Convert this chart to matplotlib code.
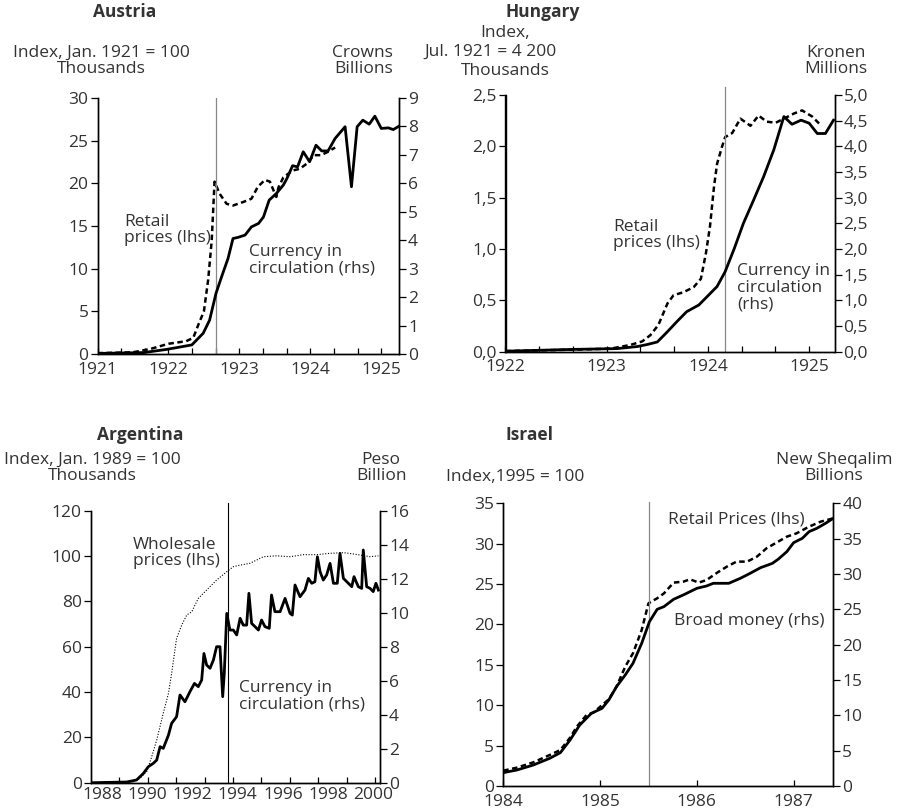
import numpy as np
import matplotlib.pyplot as plt
from matplotlib.ticker import FuncFormatter

plt.rcParams['font.family'] = ['Open Sans', 'DejaVu Sans']
txt_col = '#333333'
fs = 12.5

# Austria (retail prices lhs, thousands; currency rhs, billions of crowns)
aut_price_x = [1921.0, 1921.5, 1921.75, 1922.0, 1922.25, 1922.35, 1922.42, 1922.5, 1922.56,
               1922.61, 1922.65, 1922.72, 1922.82, 1922.91, 1923.05, 1923.17, 1923.26, 1923.36,
               1923.43, 1923.52, 1923.55, 1923.62, 1923.75, 1923.85, 1923.95, 1924.05, 1924.15,
               1924.25, 1924.35]
aut_price_y = [0.1, 0.2, 0.6, 1.2, 1.5, 1.9, 3.4, 5.0, 8.7, 13.3, 20.2, 18.8, 17.6, 17.4, 17.8,
               18.2, 19.6, 20.4, 20.2, 18.4, 19.5, 20.7, 21.5, 21.7, 22.3, 23.3, 23.3, 23.7, 24.2]
aut_cur_x = [1921.0, 1921.65, 1921.97, 1922.33, 1922.49, 1922.58, 1922.67, 1922.75, 1922.84,
             1922.91, 1922.98, 1923.08, 1923.17, 1923.27, 1923.34, 1923.42, 1923.52, 1923.62,
             1923.67, 1923.75, 1923.82, 1923.9, 1923.99, 1924.08, 1924.16, 1924.25, 1924.35,
             1924.49, 1924.58, 1924.66, 1924.74, 1924.83, 1924.91, 1925.0, 1925.1, 1925.17, 1925.25]
aut_cur_y = [0.02, 0.05, 0.16, 0.32, 0.73, 1.19, 2.13, 2.72, 3.36, 4.06, 4.1, 4.18, 4.47, 4.59,
             4.82, 5.41, 5.64, 5.94, 6.17, 6.62, 6.58, 7.11, 6.76, 7.34, 7.14, 7.14, 7.58, 7.99,
             5.88, 7.99, 8.22, 8.08, 8.36, 7.93, 7.95, 7.89, 8.01]

# Hungary (retail prices lhs, thousands; currency rhs, millions of kronen)
hun_price_x = [1922.0, 1922.67, 1923.04, 1923.23, 1923.35, 1923.43, 1923.51, 1923.6, 1923.66,
               1923.76, 1923.86, 1923.93, 1923.98, 1924.02, 1924.06, 1924.09, 1924.14, 1924.17,
               1924.24, 1924.32, 1924.42, 1924.5, 1924.58, 1924.67, 1924.75, 1924.85, 1924.93,
               1925.03, 1925.11]
hun_price_y = [0.006, 0.02, 0.03, 0.065, 0.1, 0.16, 0.26, 0.47, 0.55, 0.58, 0.63, 0.71, 0.96,
               1.22, 1.61, 1.83, 2.0, 2.09, 2.13, 2.27, 2.2, 2.3, 2.24, 2.23, 2.27, 2.32, 2.35,
               2.29, 2.21]
hun_cur_x = [1922.0, 1922.67, 1923.1, 1923.3, 1923.4, 1923.5, 1923.6, 1923.69, 1923.79, 1923.91,
             1923.99, 1924.09, 1924.17, 1924.26, 1924.35, 1924.45, 1924.55, 1924.65, 1924.75,
             1924.83, 1924.92, 1925.0, 1925.08, 1925.16, 1925.24]
hun_cur_y = [0.01, 0.045, 0.06, 0.1, 0.14, 0.19, 0.39, 0.58, 0.78, 0.91, 1.07, 1.27, 1.56, 2.01,
             2.5, 2.95, 3.41, 3.93, 4.58, 4.43, 4.51, 4.45, 4.25, 4.25, 4.51]

# Argentina (wholesale prices lhs, thousands; currency rhs, billion pesos)
arg_price_x = [1987.54, 1988.8, 1989.39, 1989.68, 1989.98, 1990.2, 1990.42, 1990.71, 1990.94,
               1991.08, 1991.3, 1991.53, 1991.75, 1991.97, 1992.26, 1992.63, 1993.07, 1993.52,
               1993.81, 1994.11, 1994.55, 1995.14, 1995.73, 1996.32, 1996.91, 1997.5, 1998.09,
               1998.68, 1999.27, 1999.86, 2000.23]
arg_price_y = [0, 0, 0.4, 1.9, 4.9, 11.5, 18.8, 30.6, 39.4, 48.2, 63.7, 69.6, 74.0, 75.4, 81.3,
               85.0, 89.4, 93.1, 95.3, 96.0, 96.8, 99.7, 100.1, 99.7, 100.6, 100.6, 101.2, 101.5,
               100.7, 99.7, 100.1]
arg_cur_x = [1987.54, 1989.09, 1989.53, 1989.83, 1990.05, 1990.27, 1990.42, 1990.57, 1990.71,
             1990.94, 1991.08, 1991.3, 1991.45, 1991.67, 1991.89, 1992.09, 1992.26, 1992.41,
             1992.51, 1992.63, 1992.78, 1992.93, 1993.07, 1993.22, 1993.34, 1993.41, 1993.52,
             1993.66, 1993.81, 1993.96, 1994.11, 1994.25, 1994.4, 1994.5, 1994.62, 1994.77,
             1994.92, 1995.06, 1995.21, 1995.4, 1995.5, 1995.65, 1995.88, 1996.1, 1996.32,
             1996.42, 1996.54, 1996.76, 1996.98, 1997.13, 1997.28, 1997.42, 1997.53, 1997.65,
             1997.79, 1997.94, 1998.09, 1998.24, 1998.41, 1998.53, 1998.68, 1998.9, 1999.05,
             1999.15, 1999.34, 1999.49, 1999.56, 1999.71, 1999.86, 2000.0, 2000.12, 2000.23]
arg_cur_y = [0, 0.04, 0.16, 0.55, 0.94, 1.14, 1.33, 2.12, 2.02, 2.8, 3.49, 3.88, 5.16, 4.76,
             5.35, 5.84, 5.65, 6.04, 7.6, 6.92, 6.73, 7.22, 8.0, 8.0, 5.06, 6.43, 9.96, 8.98,
             8.98, 8.69, 9.67, 9.27, 9.27, 11.14, 9.37, 9.18, 8.98, 9.57, 9.18, 9.08, 11.04,
             10.06, 10.06, 10.84, 9.96, 9.86, 11.63, 10.94, 11.33, 12.02, 11.73, 11.82, 13.29,
             12.41, 11.92, 12.22, 12.9, 11.73, 11.73, 13.49, 12.02, 11.73, 11.53, 12.12, 11.53,
             11.43, 13.69, 11.53, 11.43, 11.24, 11.73, 11.33]

# Israel (retail prices lhs, index; broad money rhs, billions of new sheqalim)
isr_price_x = [1984.0, 1984.14, 1984.31, 1984.48, 1984.59, 1984.69, 1984.76, 1984.86, 1984.93,
               1985.09, 1985.17, 1985.26, 1985.34, 1985.43, 1985.5, 1985.59, 1985.66, 1985.76,
               1985.86, 1985.93, 1986.02, 1986.1, 1986.21, 1986.31, 1986.41, 1986.52, 1986.62,
               1986.72, 1986.84, 1986.93, 1987.03, 1987.16, 1987.28, 1987.41]
isr_price_y = [1.9, 2.27, 2.93, 3.84, 4.46, 5.98, 7.35, 8.79, 9.08, 10.73, 12.3, 14.78, 16.43,
               19.31, 22.62, 23.24, 23.85, 25.18, 25.3, 25.59, 25.18, 25.5, 26.41, 27.16, 27.78,
               27.78, 28.39, 29.43, 30.25, 30.87, 31.28, 32.11, 32.73, 33.14]
isr_money_x = [1984.0, 1984.14, 1984.31, 1984.48, 1984.59, 1984.69, 1984.79, 1984.91, 1985.02,
               1985.09, 1985.17, 1985.26, 1985.34, 1985.43, 1985.51, 1985.59, 1985.66, 1985.76,
               1985.86, 1986.0, 1986.1, 1986.17, 1986.33, 1986.45, 1986.55, 1986.66, 1986.78,
               1986.84, 1986.93, 1987.0, 1987.09, 1987.16, 1987.24, 1987.33, 1987.41]
isr_money_y = [1.89, 2.26, 2.97, 3.92, 4.72, 6.51, 8.63, 10.28, 10.99, 12.17, 14.06, 15.71,
               17.36, 20.19, 23.25, 25.0, 25.38, 26.42, 27.03, 27.97, 28.3, 28.68, 28.68, 29.39,
               30.09, 30.9, 31.5, 32.08, 33.16, 34.43, 35.05, 35.99, 36.46, 37.17, 37.88]

W, H = 897, 808
fig = plt.figure(figsize=(W / 100, H / 100), dpi=100)


def rect(x0, y0, x1, y1):
    return [x0 / W, 1 - y1 / H, (x1 - x0) / W, (y1 - y0) / H]


def ftext(x, y, s, **kw):
    kw.setdefault('fontsize', fs)
    kw.setdefault('color', txt_col)
    fig.text(x / W, 1 - y / H, s, va='center', linespacing=1.05, **kw)


def panel(pos, xlim, ylim, ylim2, xpad=5.5):
    ax = fig.add_axes(pos)
    ax2 = ax.twinx()
    for a in (ax, ax2):
        a.spines['top'].set_visible(False)
        for s in ('left', 'right', 'bottom'):
            a.spines[s].set_linewidth(1.0)
        a.set_xlim(*xlim)
        a.tick_params(axis='y', length=5, width=0.9, pad=1.5, labelsize=fs, labelcolor=txt_col)
        a.tick_params(axis='x', which='both', direction='in', length=4, width=0.9, pad=xpad,
                      labelsize=fs, labelcolor=txt_col)
    ax.set_ylim(*ylim)
    ax2.set_ylim(*ylim2)
    return ax, ax2


dash = dict(color='black', lw=1.8, ls=(0, (2.2, 1.4)))
solid = dict(color='black', lw=2.0)

# ---- Austria
ax, ax2 = panel(rect(97.5, 98, 399, 354), (1921, 1925.25), (0, 30), (0, 9))
ax.set_xticks(np.arange(1921, 1926))
ax.set_xticks(np.arange(1921, 1925.3, 1 / 3), minor=True)
ax.set_yticks(np.arange(0, 31, 5))
ax2.set_yticks(np.arange(0, 10, 1))
ax.plot(aut_price_x, aut_price_y, **dash)
ax2.plot(aut_cur_x, aut_cur_y, **solid)
ax.axvline(1922.667, color='#888888', lw=0.9)
ftext(125, 12, 'Austria', ha='center', fontweight='bold')
ftext(101, 61, 'Index, Jan. 1921 = 100\nThousands', ha='center', multialignment='center')
ftext(393, 61, 'Crowns\nBillions', ha='right', multialignment='right')
ftext(124, 230, 'Retail\nprices (lhs)', ha='left')
ftext(249, 260, 'Currency in\ncirculation (rhs)', ha='left')

# ---- Hungary
ax, ax2 = panel(rect(505.5, 95, 834.5, 351.7), (1922, 1925.25), (0, 2.5), (0, 5))
ax.set_xticks(np.arange(1922, 1926))
ax.set_xticks(np.arange(1922, 1925.3, 1 / 3), minor=True)
ax.set_yticks(np.arange(0, 2.6, 0.5))
ax2.set_yticks(np.arange(0, 5.1, 0.5))
comma = FuncFormatter(lambda v, p: f'{v:.1f}'.replace('.', ','))
ax.yaxis.set_major_formatter(comma)
ax2.yaxis.set_major_formatter(comma)
ax.plot(hun_price_x, hun_price_y, **dash)
ax2.plot(hun_cur_x, hun_cur_y, **solid)
ax.axvline(1924.17, ymax=1.03, color='#888888', lw=0.9, clip_on=False)
ftext(543, 12, 'Hungary', ha='center', fontweight='bold')
ftext(505, 33, 'Index,', ha='center')
ftext(490, 52, 'Jul. 1921 = 4 200', ha='center')
ftext(505, 71, 'Thousands', ha='center')
ftext(867, 61, 'Kronen\nMillions', ha='right', multialignment='center')
ftext(613, 235, 'Retail\nprices (lhs)', ha='left')
ftext(737, 288, 'Currency in\ncirculation\n(rhs)', ha='left')

# ---- Argentina
ax, ax2 = panel(rect(90.7, 510.7, 380, 782.7), (1987.5, 2000.3), (0, 120), (0, 16), xpad=3)
ax.set_xticks(np.arange(1988, 2001, 2))
ax.set_xticks(np.arange(1988.77, 2000.3, 1.257), minor=True)
ax.tick_params(axis='x', which='major', length=0)
ax2.tick_params(axis='x', which='major', length=0)
ax.set_yticks(np.arange(0, 121, 20))
ax2.set_yticks(np.arange(0, 17, 2))
ax.plot(arg_price_x, arg_price_y, color='black', lw=0.8, ls=(0, (1, 1.5)))
ax2.plot(arg_cur_x, arg_cur_y, **solid)
ax.axvline(1993.59, ymax=1.03, color='black', lw=0.8, clip_on=False)
ftext(140, 435, 'Argentina', ha='center', fontweight='bold')
ftext(92, 468, 'Index, Jan. 1989 = 100\nThousands', ha='center', multialignment='center')
ftext(381, 468, 'Peso\nBillion', ha='center', multialignment='center')
ftext(133, 553, 'Wholesale\nprices (lhs)', ha='left')
ftext(239, 696, 'Currency in\ncirculation (rhs)', ha='left')

# ---- Israel
ax, ax2 = panel(rect(503.3, 503.3, 833.3, 786), (1984, 1987.41), (0, 35), (0, 40))
ax.set_xticks(np.arange(1984, 1988))
ax.set_yticks(np.arange(0, 36, 5))
ax2.set_yticks(np.arange(0, 41, 5))
ax.plot(isr_price_x, isr_price_y, **dash)
ax2.plot(isr_money_x, isr_money_y, **solid)
ax.axvline(1985.51, ymax=1.005, color='#888888', lw=0.9, clip_on=False)
ftext(529, 435, 'Israel', ha='center', fontweight='bold')
ftext(515, 477, 'Index,1995 = 100', ha='center')
ftext(834, 468, 'New Sheqalim\nBillions', ha='center', multialignment='center')
ftext(668, 519, 'Retail Prices (lhs)', ha='left')
ftext(674, 621, 'Broad money (rhs)', ha='left')

fig.savefig('out.png', dpi=100)
